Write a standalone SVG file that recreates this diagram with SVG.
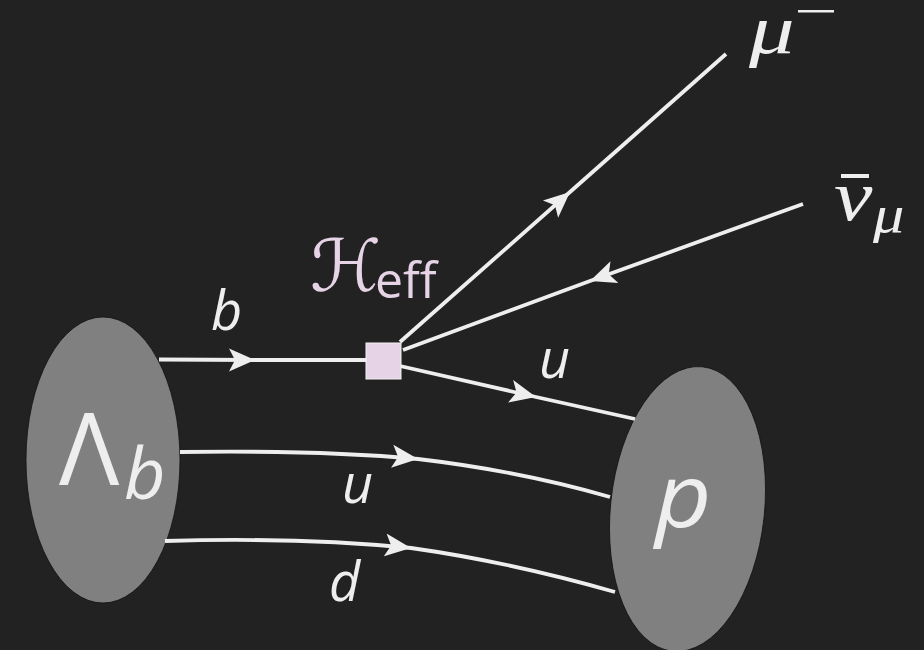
<svg xmlns="http://www.w3.org/2000/svg" width="924" height="650" viewBox="0 0 924 650">
<style>
.l{fill:none;stroke:#eeeeee;stroke-width:3.8;marker-mid:url(#a)}
.t{fill:#eeeeee;font-family:"Open Sans","Liberation Sans",sans-serif;font-style:italic}
.g{fill:#eeeeee;font-family:"Liberation Serif",serif;font-style:italic}
.blob{fill:#808080;stroke:#111;stroke-width:.8}
</style>
<defs>
<marker id="a" markerUnits="userSpaceOnUse" markerWidth="30" markerHeight="28" refX="26" refY="14" orient="auto">
<path d="M0 2.500L26 14L0 25.500L6 14Z" fill="#eeeeee"/>
</marker>
</defs>
<rect width="924" height="650" fill="#222222"/>
<g id="lambda-b">
<ellipse class="blob" cx="103" cy="460" rx="77" ry="143"/>
<text x="59" y="485" font-size="100" fill="#eeeeee" font-family="'Open Sans','Liberation Sans',sans-serif">Λ</text>
<text class="t" x="124" y="499" font-size="72">b</text>
</g>
<g id="proton">
<ellipse class="blob" cx="687.500" cy="509" rx="77" ry="143" transform="rotate(6 687.500 509)"/>
<text class="t" font-size="89" transform="translate(655 527) scale(1.1 1)">p</text>
</g>
<g id="connectors">
<path class="l" d="M159 359.500L255 360L366 360"/>
<path class="l" d="M400 342L570 192L726 54"/>
<path class="l" d="M803 204L590 281L403 350"/>
<path class="l" d="M400 366L536 397L635 419"/>
<path class="l" d="M180 452Q320 450 418 459Q520 471 610 497"/>
<path class="l" d="M165 541Q300 537 411 548Q510 562 615 592"/>
</g>
<g id="vertex">
<rect x="366" y="343" width="35" height="36" fill="#e6d3e6" stroke="#f2f2f2" stroke-width="1"/>
<text x="310" y="291" font-size="72" fill="#e6d3e6" font-family="'DejaVu Sans','Noto Sans',sans-serif">ℋ</text>
<text x="375" y="298" font-size="50" fill="#e6d3e6" font-family="'Open Sans','Liberation Sans',sans-serif">eff</text>
</g>
<g id="labels">
<text class="t" x="211" y="330" font-size="54">b</text>
<text class="t" x="539" y="378" font-size="54">u</text>
<text class="t" x="342" y="503" font-size="54">u</text>
<text class="t" x="329" y="601" font-size="54">d</text>
</g>
<g id="mu">
<text class="g" font-size="70" transform="translate(749 53) scale(1.3 1)">μ</text>
<rect x="798" y="10" width="36" height="2.500" fill="#eeeeee"/>
</g>
<g id="nu">
<text class="g" font-size="72" transform="translate(834 220) scale(1.2 1)">ν</text>
<rect x="841" y="174" width="28" height="4" fill="#eeeeee"/>
<text class="g" font-size="52" transform="translate(873 232) scale(1.2 1)">μ</text>
</g>
</svg>
